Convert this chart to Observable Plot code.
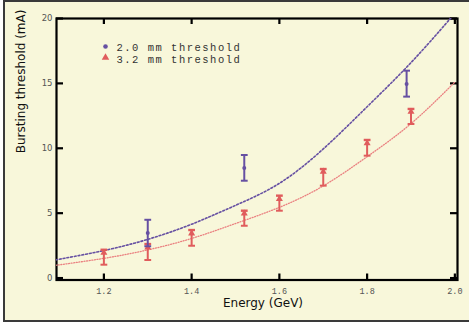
<!DOCTYPE html>
<html><head><meta charset="utf-8">
<script src="https://cdn.jsdelivr.net/npm/d3@7"></script>
<script src="https://cdn.jsdelivr.net/npm/@observablehq/plot@0.6"></script>
<style>
html,body{margin:0;padding:0;background:#fff;overflow:hidden;width:469px;height:329px}
#frame{position:absolute;left:3px;top:0;width:480px;height:318px;border:2px solid #3a3a3a;background:#f8f7da}
#chart{position:absolute;left:0;top:0}
</style></head><body><div id="frame"></div><div id="chart"></div>
<script>
// 2.0 mm threshold measurements
const energy20 = [1.30, 1.52, 1.89];
const thr20 = [3.47, 8.48, 14.96];
const lo20 = [2.45, 7.50, 13.98];
const hi20 = [4.49, 9.48, 15.98];
// 3.2 mm threshold measurements
const energy32 = [1.2, 1.3, 1.4, 1.52, 1.6, 1.7, 1.8, 1.9];
const thr32 = [1.95, 2.36, 3.44, 4.98, 6.09, 8.20, 10.38, 12.82];
const lo32 = [1.03, 1.39, 2.49, 4.03, 5.19, 7.12, 9.43, 11.87];
const hi32 = [2.18, 2.62, 3.70, 5.19, 6.35, 8.40, 10.64, 13.03];
// fitted curves
const fitEnergy = [1.09, 1.2, 1.3, 1.4, 1.5, 1.6, 1.7, 1.8, 1.9, 2.0];
const fit20 = [1.40, 2.12, 2.98, 4.15, 5.6, 7.3, 9.95, 13.2, 16.6, 20.4];
const fit32 = [0.98, 1.52, 2.17, 3.05, 4.2, 5.45, 7.1, 9.35, 11.9, 15.1];
const xTicks = [1.2, 1.4, 1.6, 1.8, 2.0];
const yTicks = [0, 5, 10, 15, 20];
const legendLabels = ["2.0 mm threshold", "3.2 mm threshold"];
const xTitle = "Energy (GeV)";
const yTitle = "Bursting threshold (mA)";

const blue = "#6650a2", red = "#e05c5c", redLine = "#ea8080";
const d20 = energy20.map((e, i) => ({e, v: thr20[i], lo: lo20[i], hi: hi20[i]}));
const d32 = energy32.map((e, i) => ({e, v: thr32[i], lo: lo32[i], hi: hi32[i]}));
const f20 = fitEnergy.map((e, i) => ({e, v: fit20[i]}));
const f32 = fitEnergy.map((e, i) => ({e, v: fit32[i]}));
const cap = {draw(ctx, size) { const w = Math.sqrt(size / Math.PI); ctx.moveTo(-w, 0); ctx.lineTo(w, 0); }};
const sans = "DejaVu Sans", mono = "Liberation Mono";
const W = 469, H = 329, mL = 56, mR = 12, mT = 18, mB = 49.5;
const fw = W - mL - mR, fh = H - mT - mB;
const ink = "#000";

const chart = Plot.plot({
  width: W, height: H,
  marginLeft: mL, marginRight: mR, marginTop: mT, marginBottom: mB,
  style: {background: "transparent", fontFamily: sans},
  x: {domain: [1.092, 2.006], axis: null},
  y: {domain: [-0.15, 20], axis: null},
  marks: [
    Plot.frame({stroke: ink, strokeWidth: 2.2}),
    Plot.tickX(xTicks, {x: d => d, insetTop: fh - 6, stroke: ink, strokeWidth: 2.2}),
    Plot.tickX(xTicks, {x: d => d, insetBottom: fh - 6, stroke: ink, strokeWidth: 2.2}),
    Plot.tickY(yTicks, {y: d => d, insetRight: fw - 7, stroke: ink, strokeWidth: 2.2}),
    Plot.tickY(yTicks, {y: d => d, insetLeft: fw - 7, stroke: ink, strokeWidth: 2.2}),
    Plot.line(f20, {x: "e", y: "v", curve: "natural", stroke: blue, strokeWidth: 1.6, strokeDasharray: "1.8,2", clip: "frame"}),
    Plot.line(f32, {x: "e", y: "v", curve: "natural", stroke: redLine, strokeWidth: 1.3, strokeDasharray: "1,1.6", clip: "frame"}),
    Plot.ruleX(d32, {x: "e", y1: "lo", y2: "hi", stroke: red, strokeWidth: 2}),
    Plot.dot(d32, {x: "e", y: "lo", symbol: cap, r: 3.4, stroke: red, strokeWidth: 2}),
    Plot.dot(d32, {x: "e", y: "hi", symbol: cap, r: 3.4, stroke: red, strokeWidth: 2.4}),
    Plot.dot(d32, {x: "e", y: "v", symbol: "triangle", r: 2.6, fill: red}),
    Plot.ruleX(d20, {x: "e", y1: "lo", y2: "hi", stroke: blue, strokeWidth: 2}),
    Plot.dot(d20, {x: "e", y: "lo", symbol: cap, r: 3.4, stroke: blue, strokeWidth: 2}),
    Plot.dot(d20, {x: "e", y: "hi", symbol: cap, r: 3.4, stroke: blue, strokeWidth: 2}),
    Plot.dot(d20, {x: "e", y: "v", r: 2, fill: blue}),
    Plot.axisX(xTicks, {anchor: "bottom", tickSize: 0, tickPadding: 8, tickFormat: d3.format(".1f"), fontFamily: mono, fontSize: 8.5, fill: "#555", label: null}),
    Plot.axisY(yTicks, {anchor: "left", tickSize: 0, tickPadding: 4, fontFamily: sans, fontSize: 8.5, fill: "#555", label: null}),
    Plot.text([xTitle], {text: d => d, frameAnchor: "bottom", dx: 6, dy: 27, fontFamily: sans, fontSize: 12, fill: "#111"}),
    Plot.text([yTitle], {text: d => d, frameAnchor: "left", rotate: -90, dx: -35, dy: 4, fontFamily: sans, fontSize: 12, fill: "#111"}),
    Plot.dot([0], {frameAnchor: "top-left", dx: 49, dy: 28, r: 2.3, fill: blue}),
    Plot.dot([0], {frameAnchor: "top-left", dx: 49, dy: 39, r: 2.8, symbol: "triangle", fill: red}),
    Plot.text([legendLabels[0]], {text: d => d, frameAnchor: "top-left", textAnchor: "start", lineAnchor: "bottom", dx: 60, dy: 32.5, fontFamily: mono, fontSize: 10.5, fill: "#333"}),
    Plot.text([legendLabels[1]], {text: d => d, frameAnchor: "top-left", textAnchor: "start", lineAnchor: "bottom", dx: 60, dy: 44, fontFamily: mono, fontSize: 10.5, fill: "#333"})
  ]
});
chart.querySelectorAll("text").forEach(t => {
  if (legendLabels.includes(t.textContent)) t.setAttribute("letter-spacing", "1.5px");
});
document.getElementById("chart").append(chart);
</script></body></html>
